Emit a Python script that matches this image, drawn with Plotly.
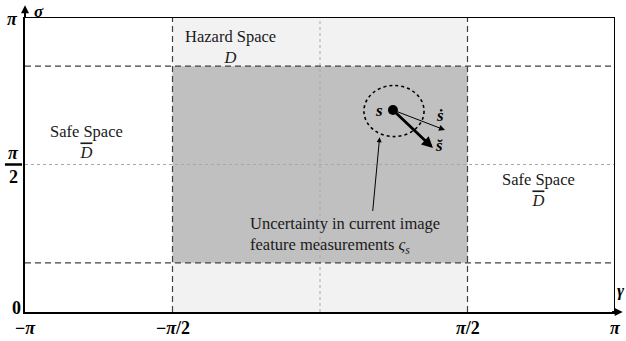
import math
import plotly.graph_objects as go

PI = math.pi

# axis ticks
x_tick_vals = [-PI, -PI / 2, PI / 2, PI]
x_tick_text = ["−<i>π</i>", "−<i>π</i>/2", "<i>π</i>/2", "<i>π</i>"]

# regions (gamma, sigma)
hazard_x = [-PI / 2, PI / 2]
hazard_y = [0, PI]
core_y = [PI / 6, 5 * PI / 6]

# measured feature state and its vectors
s_point = [0.777, 2.151]
s_dot_end = [1.331, 1.938]
s_breve_end = [1.203, 1.746]
uncert_center = [0.788, 2.14]
uncert_radius = [0.32, 0.272]

FONT = "Liberation Serif"
MATH = "Liberation Serif"

fig = go.Figure()

shapes = []
# light hazard band
shapes.append(dict(type="rect", xref="x", yref="y", x0=hazard_x[0], x1=hazard_x[1],
                   y0=hazard_y[0], y1=hazard_y[1], fillcolor="#f2f2f2",
                   line=dict(width=0), layer="below"))
# darker core region
shapes.append(dict(type="rect", xref="x", yref="y", x0=hazard_x[0], x1=hazard_x[1],
                   y0=core_y[0], y1=core_y[1], fillcolor="#c0c0c0",
                   line=dict(width=0), layer="below"))
# dotted centre lines
shapes.append(dict(type="line", xref="x", yref="y", x0=0, x1=0, y0=0, y1=PI,
                   line=dict(color="#a8a8a8", width=1, dash="dot"), layer="below"))
shapes.append(dict(type="line", xref="x", yref="y", x0=-PI, x1=PI, y0=PI / 2, y1=PI / 2,
                   line=dict(color="#a8a8a8", width=1, dash="dot"), layer="below"))
# dashed boundaries
for yv in core_y:
    shapes.append(dict(type="line", xref="x", yref="y", x0=-PI, x1=PI, y0=yv, y1=yv,
                       line=dict(color="#404040", width=1.2, dash="6px,4px")))
for xv in hazard_x:
    shapes.append(dict(type="line", xref="x", yref="y", x0=xv, x1=xv, y0=0, y1=PI,
                       line=dict(color="#404040", width=1.2, dash="6px,4px")))
# outer frame: top and right
shapes.append(dict(type="line", xref="x", yref="y", x0=-PI, x1=PI, y0=PI, y1=PI,
                   line=dict(color="black", width=2)))
shapes.append(dict(type="line", xref="x", yref="y", x0=PI, x1=PI, y0=0, y1=PI,
                   line=dict(color="black", width=2)))
# uncertainty ellipse
shapes.append(dict(type="circle", xref="x", yref="y",
                   x0=uncert_center[0] - uncert_radius[0], x1=uncert_center[0] + uncert_radius[0],
                   y0=uncert_center[1] - uncert_radius[1], y1=uncert_center[1] + uncert_radius[1],
                   line=dict(color="black", width=1.6, dash="dot")))

fig.add_trace(go.Scatter(x=[s_point[0]], y=[s_point[1]], mode="markers",
                         marker=dict(color="black", size=10), hoverinfo="skip",
                         showlegend=False))

ann = []
# axes arrowheads (gamma horizontal, sigma vertical)
ann.append(dict(x=1.013, y=0, xref="x domain", yref="y domain", ax=-12, ay=0,
                showarrow=True, arrowhead=2, arrowsize=0.8, arrowwidth=2,
                arrowcolor="black", text=""))
ann.append(dict(x=0, y=1.04, xref="x domain", yref="y domain", ax=0, ay=14,
                showarrow=True, arrowhead=2, arrowsize=0.8, arrowwidth=2,
                arrowcolor="black", text=""))
ann.append(dict(x=1.0, y=0.035, xref="paper", yref="paper", text="<b><i>γ</i></b>",
                showarrow=False, xanchor="left", yanchor="bottom",
                font=dict(family=MATH, size=17, color="black")))
ann.append(dict(x=0.012, y=1.058, xref="paper", yref="paper", text="<b><i>σ</i></b>",
                showarrow=False, xanchor="left", yanchor="top",
                font=dict(family=MATH, size=17, color="black")))

# x tick labels
tick_font = dict(family=MATH, size=18, color="black")
for xv, tt in zip(x_tick_vals, x_tick_text):
    ann.append(dict(x=xv, y=0, xref="x", yref="y", yshift=-16, text="<b>" + tt + "</b>",
                    showarrow=False, font=tick_font))
# y tick labels
ann.append(dict(x=-PI, y=PI, xref="x", yref="y", xshift=-13, yshift=-2, text="<b><i>π</i></b>",
                showarrow=False, font=tick_font))
ann.append(dict(x=-PI, y=0, xref="x", yref="y", xshift=-9, yshift=4, text="<b>0</b>",
                showarrow=False, font=tick_font))
ann.append(dict(x=-PI, y=PI / 2, xref="x", yref="y", xshift=-12, yshift=12, text="<b><i>π</i></b>",
                showarrow=False, font=tick_font))
ann.append(dict(x=-PI, y=PI / 2, xref="x", yref="y", xshift=-12, yshift=-12, text="<b>2</b>",
                showarrow=False, font=tick_font))
shapes.append(dict(type="line", xref="paper", yref="y", x0=-0.034, x1=-0.005,
                   y0=PI / 2, y1=PI / 2, line=dict(color="black", width=2.5)))

# region labels
txt_font = dict(family=FONT, size=16.5, color="#1a1a1a")
ann.append(dict(x=-0.95, y=2.82, xref="x", yref="y", text="Hazard Space<br><i>D</i>",
                showarrow=False, font=txt_font))
ann.append(dict(x=-2.49, y=1.81, xref="x", yref="y",
                text="Safe Space<br><span style='text-decoration:overline'><i>D</i></span>",
                showarrow=False, font=txt_font))
ann.append(dict(x=2.33, y=1.30, xref="x", yref="y",
                text="Safe Space<br><span style='text-decoration:overline'><i>D</i></span>",
                showarrow=False, font=txt_font))
ann.append(dict(x=-0.767, y=0.815, xref="x", yref="y", align="left", xanchor="left",
                text="Uncertainty in current image<br>feature measurements <i>ς<sub>s</sub></i>",
                showarrow=False, font=txt_font))

# pointer from label to ellipse
ann.append(dict(x=0.635, y=1.86, xref="x", yref="y", ax=0.56, ay=1.06, axref="x",
                ayref="y", showarrow=True, arrowhead=2, arrowsize=1, arrowwidth=1,
                arrowcolor="black", text=""))
# velocity vectors
ann.append(dict(x=s_dot_end[0], y=s_dot_end[1], xref="x", yref="y", ax=s_point[0],
                ay=s_point[1], axref="x", ayref="y", showarrow=True, arrowhead=2,
                arrowsize=1.2, arrowwidth=1, arrowcolor="black", text=""))
ann.append(dict(x=s_breve_end[0], y=s_breve_end[1], xref="x", yref="y", ax=s_point[0],
                ay=s_point[1], axref="x", ayref="y", showarrow=True, arrowhead=2,
                arrowsize=0.8, arrowwidth=2.8, arrowcolor="black", text=""))
# vector labels
sym_font = dict(family=MATH, size=17, color="black")
ann.append(dict(x=s_point[0], y=s_point[1], xref="x", yref="y", xshift=-14, text="<b><i>s</i></b>",
                showarrow=False, font=sym_font))
ann.append(dict(x=s_dot_end[0], y=s_dot_end[1], xref="x", yref="y", xshift=-5, yshift=15,
                text="<b><i>ṡ</i></b>", showarrow=False, font=sym_font))
ann.append(dict(x=s_breve_end[0], y=s_breve_end[1], xref="x", yref="y", xshift=7, yshift=3,
                text="<b><i>s̆</i></b>", showarrow=False, font=sym_font))

fig.update_layout(
    width=626, height=341,
    margin=dict(l=25, r=11, t=17, b=29),
    paper_bgcolor="white", plot_bgcolor="white",
    showlegend=False,
    shapes=shapes, annotations=ann,
    xaxis=dict(range=[-PI, PI], showgrid=False, zeroline=False, showticklabels=False,
               ticks="", showline=True, linecolor="black", linewidth=2, fixedrange=True),
    yaxis=dict(range=[0, PI], showgrid=False, zeroline=False, showticklabels=False,
               ticks="", showline=True, linecolor="black", linewidth=2, fixedrange=True),
)

fig.write_html("out.html", config={"displayModeBar": False})
